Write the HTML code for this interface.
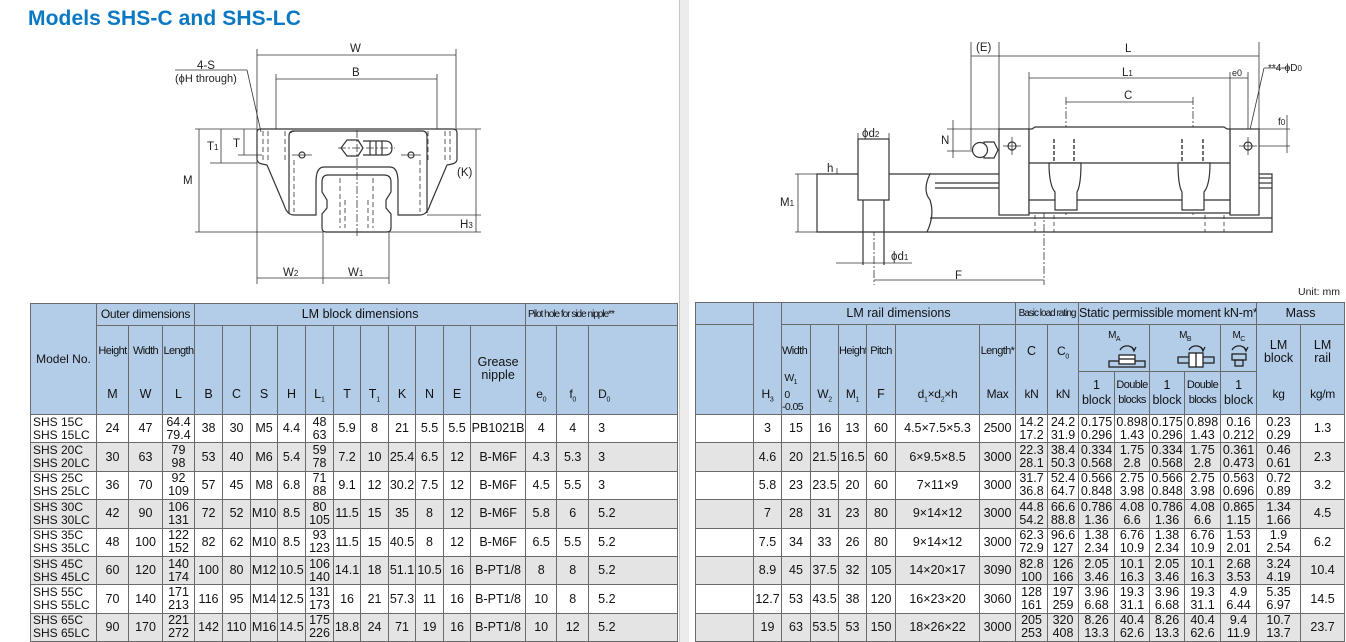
<!DOCTYPE html>
<html><head><meta charset="utf-8">
<style>
html,body{margin:0;padding:0;background:#fff;}
body{width:1346px;height:642px;position:relative;overflow:hidden;font-family:"Liberation Sans",Arial,sans-serif;color:#111;}
.title{position:absolute;left:28px;top:7px;font-size:21px;font-weight:bold;color:#0a78c2;letter-spacing:0.1px;}
table.t{position:absolute;border-collapse:collapse;table-layout:fixed;font-size:12.5px;}
table.t td{border:1px solid #6a6a6a;text-align:center;padding:0;white-space:nowrap;overflow:hidden;line-height:13px;vertical-align:middle;}
table.t tr.h td{background:#b3cde9;}
table.t tr.g td{background:#e4e4e4;}
table.t tr.w td{background:#fff;}
td .rel{position:relative;width:100%;}
td .rel span{position:absolute;left:0;right:0;text-align:center;}
.c{font-size:11px;letter-spacing:-0.6px;}
.n{font-size:12px;letter-spacing:-0.3px;}
.m{text-align:left !important;padding-left:2px !important;font-size:12px;}
.d0{text-align:left !important;padding-left:9px !important;}
svg text{font-family:"Liberation Sans",Arial,sans-serif;}
</style></head><body>
<div class="title">Models SHS-C and SHS-LC</div>

<div style="position:absolute;left:679px;top:0;width:1px;height:642px;background:#c8c8c8"></div>
<div style="position:absolute;left:680px;top:0;width:9px;height:642px;background:#ececec"></div>

<svg style="position:absolute;left:0;top:0" width="1346" height="300" viewBox="0 0 1346 300">
<g stroke="#333" stroke-width="0.8" fill="none">
 <line x1="257" y1="49" x2="257" y2="284"/><line x1="456" y1="49" x2="456" y2="129"/>
 <line x1="257" y1="55" x2="456" y2="55"/>
 <line x1="276" y1="74" x2="276" y2="129"/><line x1="437" y1="74" x2="437" y2="129"/>
 <line x1="276" y1="79" x2="437" y2="79"/>
 <line x1="175" y1="70" x2="247" y2="70"/><line x1="247" y1="70" x2="261" y2="132"/>
 <line x1="195" y1="129" x2="257" y2="129"/><line x1="456" y1="129" x2="481" y2="129"/>
 <line x1="195" y1="232" x2="323" y2="232"/><line x1="389" y1="232" x2="481" y2="232"/>
 <line x1="199" y1="129" x2="199" y2="232"/>
 <line x1="210" y1="163" x2="257" y2="163"/><line x1="221" y1="129" x2="221" y2="163"/>
 <line x1="238" y1="155" x2="262" y2="155"/><line x1="244" y1="129" x2="244" y2="155"/>
 <line x1="427" y1="215" x2="481" y2="215"/><line x1="476" y1="129" x2="476" y2="232"/>
 <line x1="323" y1="232" x2="323" y2="284"/><line x1="389" y1="232" x2="389" y2="284"/>
 <line x1="257" y1="278" x2="389" y2="278"/>
 <g stroke-width="1.2">
 <path d="M260,129 L453,129 Q457,129 457,133 L457,159 Q457,163 452,164 L447,165 L430,205 Q427,215 420,215 L398,215 L398,182 Q398,167 390,167 L324,167 Q316,167 316,182 L316,215 L294,215 Q287,215 284,205 L267,165 L262,164 Q257,163 257,159 L257,133 Q257,129 260,129 Z"/>
 <path d="M291,133 Q291,131 294,131 L422,131 Q427,131 427,136 L427,213"/>
 <path d="M289,213 L289,136 Q289,131 294,131"/>
 <path d="M328,175 L384,175 Q391,175 391,182 L391,192 L386,200 L386,208 L391,214 L391,228 Q391,232 387,232 L326,232 Q322,232 322,228 L322,214 L327,208 L327,200 L322,192 L322,182 Q322,175 328,175 Z"/>
 <path d="M341,148 L347,140 L358,140 L363,148 L358,156 L347,156 Z" fill="#fff"/>
 <path d="M363,141 L385,141 Q392,141 392,148 Q392,155 385,155 L363,155" fill="#fff"/>
 <line x1="370" y1="141" x2="370" y2="155"/><line x1="376" y1="141" x2="376" y2="155"/><line x1="382" y1="141" x2="382" y2="155"/>
 <circle cx="302" cy="155" r="3"/><circle cx="411" cy="155" r="3"/>
 </g>
 <g stroke-dasharray="5,3">
 <line x1="263" y1="131" x2="263" y2="162"/><line x1="268" y1="131" x2="268" y2="162"/><line x1="285" y1="131" x2="285" y2="162"/>
 <line x1="445" y1="131" x2="445" y2="162"/><line x1="450" y1="131" x2="450" y2="162"/><line x1="428" y1="131" x2="428" y2="162"/>
 <line x1="294" y1="160" x2="294" y2="212"/><line x1="420" y1="160" x2="420" y2="212"/>
 <line x1="340" y1="178" x2="340" y2="228"/><line x1="373" y1="178" x2="373" y2="228"/>
 <line x1="345" y1="200" x2="345" y2="228"/><line x1="368" y1="200" x2="368" y2="228"/>
 <line x1="357" y1="130" x2="357" y2="236" stroke-dasharray="8,2,2,2"/>
 <line x1="292" y1="155" x2="312" y2="155" stroke-dasharray="none"/><line x1="401" y1="155" x2="421" y2="155" stroke-dasharray="none"/>
 <line x1="338" y1="148" x2="395" y2="148" stroke-dasharray="8,2,2,2"/>
 </g>

 <line x1="971" y1="42" x2="971" y2="150"/><line x1="999" y1="42" x2="999" y2="129"/>
 <line x1="1259" y1="42" x2="1259" y2="129"/>
 <line x1="971" y1="56" x2="1259" y2="56"/>
 <line x1="1029" y1="72" x2="1029" y2="129"/><line x1="1230" y1="72" x2="1230" y2="129"/><line x1="1248" y1="72" x2="1248" y2="150"/>
 <line x1="1029" y1="78" x2="1248" y2="78"/>
 <line x1="1066" y1="97" x2="1066" y2="215" stroke-dasharray="8,2,2,2"/><line x1="1193" y1="97" x2="1193" y2="215" stroke-dasharray="8,2,2,2"/>
 <line x1="1066" y1="102" x2="1193" y2="102"/>
 <line x1="1247" y1="143" x2="1264" y2="68"/><line x1="1264" y1="68" x2="1290" y2="68"/>
 <line x1="1259" y1="129" x2="1290" y2="129"/><line x1="1250" y1="146" x2="1290" y2="146"/><line x1="1287" y1="115" x2="1287" y2="153"/>
 <line x1="947" y1="129" x2="999" y2="129"/><line x1="947" y1="151" x2="975" y2="151"/><line x1="953" y1="120" x2="953" y2="158"/>
 <line x1="795" y1="174" x2="817" y2="174"/><line x1="795" y1="232" x2="817" y2="232"/>
 <line x1="798" y1="174" x2="798" y2="232"/>
 <line x1="836" y1="200" x2="858" y2="200"/><line x1="837" y1="168" x2="837" y2="200"/>
 <line x1="858" y1="139" x2="858" y2="133"/><line x1="889" y1="139" x2="889" y2="133"/><line x1="858" y1="139" x2="889" y2="139"/>
 <line x1="836" y1="263" x2="912" y2="263"/>
 <line x1="874" y1="200" x2="874" y2="285" stroke-dasharray="8,2,2,2"/><line x1="1044" y1="210" x2="1044" y2="285" stroke-dasharray="8,2,2,2"/>
 <line x1="874" y1="280" x2="1044" y2="280"/>
 <g stroke-width="1.2">
 <path d="M817,174 L930,174 Q922,190 930,200 Q935,215 927,232 L817,232 Z" fill="#fff"/>
 <path d="M930,174 L1272,174 L1272,232 L927,232"/>
 <line x1="1259" y1="178" x2="1272" y2="178"/><line x1="1259" y1="183" x2="1272" y2="183"/><line x1="1259" y1="188" x2="1272" y2="188"/>
 <line x1="935" y1="183" x2="999" y2="183"/><line x1="935" y1="188" x2="999" y2="188"/>
 <line x1="930" y1="218" x2="1272" y2="218"/>
 <rect x="858" y="139" width="31" height="61" fill="#fff"/>
 <line x1="863" y1="200" x2="863" y2="265"/><line x1="884" y1="200" x2="884" y2="265"/>
 <rect x="999" y="129" width="30" height="86" fill="#fff"/>
 <rect x="1230" y="129" width="29" height="86" fill="#fff"/>
 <path d="M1029,129 L1032,129 L1035,127 L1224,127 L1227,129 L1230,129 L1230,213 L1029,213 Z" fill="#fff"/>
 <line x1="1029" y1="163" x2="1230" y2="163"/>
 <line x1="1029" y1="200" x2="1230" y2="200"/>
 <path d="M1049,163 L1081,163 Q1081,185 1077,192 L1077,210 L1055,210 L1055,192 Q1049,185 1049,163" fill="#fff"/>
 <path d="M1178,163 L1210,163 Q1210,185 1204,192 L1204,210 L1182,210 L1182,192 Q1178,185 1178,163" fill="#fff"/>
 <path d="M984,142 L994,142 L998,150 L994,158 L984,158 Z" fill="#fff"/>
 <circle cx="980" cy="150" r="7.5" fill="#fff"/>
 <circle cx="1012" cy="146" r="4"/><circle cx="1248" cy="146" r="4"/>
 </g>
 <line x1="1003" y1="146" x2="1021" y2="146"/><line x1="1012" y1="137" x2="1012" y2="155"/>
 <line x1="1239" y1="146" x2="1257" y2="146"/><line x1="1248" y1="137" x2="1248" y2="155"/>
 <g stroke-dasharray="4,2" stroke-width="1.4">
 <line x1="1054" y1="139" x2="1054" y2="162"/><line x1="1074" y1="139" x2="1074" y2="162"/>
 <line x1="1182" y1="139" x2="1182" y2="162"/><line x1="1203" y1="139" x2="1203" y2="162"/>
 </g>
 <g stroke-dasharray="4,3">
 <line x1="1035" y1="215" x2="1035" y2="232"/><line x1="1054" y1="215" x2="1054" y2="232"/>
 <line x1="1205" y1="215" x2="1205" y2="232"/><line x1="1224" y1="215" x2="1224" y2="232"/>
 </g>
</g>
<g font-size="11.5" fill="#222">
 <text x="350" y="52">W</text><text x="352" y="76">B</text>
 <text x="197" y="69">4-S</text><text x="175" y="82" font-size="11">(ϕH through)</text>
 <text x="207" y="150">T<tspan font-size="8">1</tspan></text><text x="233" y="147">T</text>
 <text x="183" y="184">M</text><text x="457" y="176">(K)</text>
 <text x="460" y="228">H<tspan font-size="8">3</tspan></text>
 <text x="283" y="276">W<tspan font-size="8">2</tspan></text><text x="348" y="276">W<tspan font-size="8">1</tspan></text>
 <text x="976" y="51">(E)</text><text x="1125" y="52">L</text>
 <text x="1122" y="76">L<tspan font-size="8">1</tspan></text><text x="1124" y="99">C</text>
 <text x="1232" y="76" font-size="9">e0</text><text x="1268" y="71" font-size="10">**4-ϕD<tspan font-size="8">0</tspan></text>
 <text x="1278" y="125" font-size="10">f<tspan font-size="8">0</tspan></text>
 <text x="941" y="144">N</text><text x="827" y="172">h</text><text x="780" y="206">M<tspan font-size="8">1</tspan></text>
 <text x="862" y="137">ϕd<tspan font-size="8">2</tspan></text><text x="891" y="260">ϕd<tspan font-size="8">1</tspan></text>
 <text x="955" y="279">F</text>
 <text x="1298" y="295" font-size="10.5">Unit: mm</text>
</g>
</svg>

<table class="t" style="left:30px;top:303px;width:647px">
<colgroup><col style="width:66px"><col style="width:32px"><col style="width:34px"><col style="width:32px"><col style="width:28px"><col style="width:28px"><col style="width:27px"><col style="width:28px"><col style="width:28px"><col style="width:27px"><col style="width:28px"><col style="width:27px"><col style="width:28px"><col style="width:27px"><col style="width:55px"><col style="width:31px"><col style="width:32px"><col style="width:89px"></colgroup>
<tr class="h" style="height:22px"><td rowspan="2" style="font-size:12px">Model No.</td><td colspan="3" style="font-size:12px;letter-spacing:-0.3px">Outer dimensions</td><td colspan="11">LM block dimensions</td><td colspan="3" style="text-align:left;font-size:10px;letter-spacing:-1px">&nbsp;Pilot hole for side nipple**</td></tr>
<tr class="h" style="height:89px">
<td><div class="rel" style="height:88px"><span class="c" style="top:19px">Height</span><span style="top:62px">M</span></div></td>
<td><div class="rel" style="height:88px"><span class="c" style="top:19px">Width</span><span style="top:62px">W</span></div></td>
<td><div class="rel" style="height:88px"><span class="c" style="top:19px">Length</span><span style="top:62px">L</span></div></td>
<td><div class="rel" style="height:88px"><span style="top:62px">B</span></div></td>
<td><div class="rel" style="height:88px"><span style="top:62px">C</span></div></td>
<td><div class="rel" style="height:88px"><span style="top:62px">S</span></div></td>
<td><div class="rel" style="height:88px"><span style="top:62px">H</span></div></td>
<td><div class="rel" style="height:88px"><span style="top:62px">L<sub style="font-size:7px">1</sub></span></div></td>
<td><div class="rel" style="height:88px"><span style="top:62px">T</span></div></td>
<td><div class="rel" style="height:88px"><span style="top:62px">T<sub style="font-size:7px">1</sub></span></div></td>
<td><div class="rel" style="height:88px"><span style="top:62px">K</span></div></td>
<td><div class="rel" style="height:88px"><span style="top:62px">N</span></div></td>
<td><div class="rel" style="height:88px"><span style="top:62px">E</span></div></td>
<td><div class="rel" style="height:88px"><span style="top:30px">Grease<br>nipple</span></div></td>
<td><div class="rel" style="height:88px"><span class="n" style="top:62px">e<sub style="font-size:7px">0</sub></span></div></td>
<td><div class="rel" style="height:88px"><span class="n" style="top:62px">f<sub style="font-size:7px">0</sub></span></div></td>
<td><div class="rel" style="height:88px"><span class="n" style="top:62px;text-align:left;left:9px">D<sub style="font-size:7px">0</sub></span></div></td>
</tr>
<tr class="w" style="height:28.4px"><td class="m">SHS 15C<br>SHS 15LC</td><td>24</td><td>47</td><td>64.4<br>79.4</td><td>38</td><td>30</td><td>M5</td><td>4.4</td><td>48<br>63</td><td>5.9</td><td>8</td><td>21</td><td>5.5</td><td>5.5</td><td>PB1021B</td><td>4</td><td>4</td><td class="d0">3</td></tr>
<tr class="g" style="height:28.4px"><td class="m">SHS 20C<br>SHS 20LC</td><td>30</td><td>63</td><td>79<br>98</td><td>53</td><td>40</td><td>M6</td><td>5.4</td><td>59<br>78</td><td>7.2</td><td>10</td><td>25.4</td><td>6.5</td><td>12</td><td>B-M6F</td><td>4.3</td><td>5.3</td><td class="d0">3</td></tr>
<tr class="w" style="height:28.4px"><td class="m">SHS 25C<br>SHS 25LC</td><td>36</td><td>70</td><td>92<br>109</td><td>57</td><td>45</td><td>M8</td><td>6.8</td><td>71<br>88</td><td>9.1</td><td>12</td><td>30.2</td><td>7.5</td><td>12</td><td>B-M6F</td><td>4.5</td><td>5.5</td><td class="d0">3</td></tr>
<tr class="g" style="height:28.4px"><td class="m">SHS 30C<br>SHS 30LC</td><td>42</td><td>90</td><td>106<br>131</td><td>72</td><td>52</td><td>M10</td><td>8.5</td><td>80<br>105</td><td>11.5</td><td>15</td><td>35</td><td>8</td><td>12</td><td>B-M6F</td><td>5.8</td><td>6</td><td class="d0">5.2</td></tr>
<tr class="w" style="height:28.4px"><td class="m">SHS 35C<br>SHS 35LC</td><td>48</td><td>100</td><td>122<br>152</td><td>82</td><td>62</td><td>M10</td><td>8.5</td><td>93<br>123</td><td>11.5</td><td>15</td><td>40.5</td><td>8</td><td>12</td><td>B-M6F</td><td>6.5</td><td>5.5</td><td class="d0">5.2</td></tr>
<tr class="g" style="height:28.4px"><td class="m">SHS 45C<br>SHS 45LC</td><td>60</td><td>120</td><td>140<br>174</td><td>100</td><td>80</td><td>M12</td><td>10.5</td><td>106<br>140</td><td>14.1</td><td>18</td><td>51.1</td><td>10.5</td><td>16</td><td>B-PT1/8</td><td>8</td><td>8</td><td class="d0">5.2</td></tr>
<tr class="w" style="height:28.4px"><td class="m">SHS 55C<br>SHS 55LC</td><td>70</td><td>140</td><td>171<br>213</td><td>116</td><td>95</td><td>M14</td><td>12.5</td><td>131<br>173</td><td>16</td><td>21</td><td>57.3</td><td>11</td><td>16</td><td>B-PT1/8</td><td>10</td><td>8</td><td class="d0">5.2</td></tr>
<tr class="g" style="height:28.4px"><td class="m">SHS 65C<br>SHS 65LC</td><td>90</td><td>170</td><td>221<br>272</td><td>142</td><td>110</td><td>M16</td><td>14.5</td><td>175<br>226</td><td>18.8</td><td>24</td><td>71</td><td>19</td><td>16</td><td>B-PT1/8</td><td>10</td><td>12</td><td class="d0">5.2</td></tr>
</table>

<table class="t" style="left:695px;top:302px;width:649px">
<colgroup><col style="width:58px"><col style="width:28px"><col style="width:29px"><col style="width:28px"><col style="width:28px"><col style="width:29px"><col style="width:84px"><col style="width:36px"><col style="width:32px"><col style="width:31px"><col style="width:36px"><col style="width:35px"><col style="width:35px"><col style="width:36px"><col style="width:36px"><col style="width:44px"><col style="width:44px"></colgroup>
<tr class="h" style="height:22px"><td></td><td rowspan="3"><div class="rel" style="height:110px"><span class="n" style="top:84px">H<sub style="font-size:7px">3</sub></span></div></td><td colspan="6">LM rail dimensions</td><td colspan="2" style="font-size:10px;letter-spacing:-1px">Basic load rating</td><td colspan="5" style="letter-spacing:-0.2px">Static permissible moment kN-m*</td><td colspan="2">Mass</td></tr>
<tr class="h" style="height:47px">
<td rowspan="2"></td>
<td rowspan="2" style="text-align:left"><div class="rel" style="height:89px"><span class="c" style="top:20px;text-align:left">Width</span><span class="c" style="top:47px;text-align:left;font-size:10.5px;line-height:12px">&nbsp;W<sub style="font-size:7px">1</sub><br>&nbsp;0<br>-0.05</span></div></td>
<td rowspan="2"><div class="rel" style="height:89px"><span class="n" style="top:63px">W<sub style="font-size:7px">2</sub></span></div></td>
<td rowspan="2"><div class="rel" style="height:89px"><span class="c" style="top:20px">Height</span><span class="n" style="top:63px">M<sub style="font-size:7px">1</sub></span></div></td>
<td rowspan="2"><div class="rel" style="height:89px"><span class="c" style="top:20px">Pitch</span><span style="top:63px">F</span></div></td>
<td rowspan="2"><div class="rel" style="height:89px"><span class="n" style="top:63px">d<sub style="font-size:7px">1</sub>×d<sub style="font-size:7px">2</sub>×h</span></div></td>
<td rowspan="2"><div class="rel" style="height:89px"><span class="c" style="top:20px">Length*</span><span class="n" style="top:63px">Max</span></div></td>
<td rowspan="2"><div class="rel" style="height:89px"><span style="top:20px">C</span><span class="n" style="top:63px">kN</span></div></td>
<td rowspan="2"><div class="rel" style="height:89px"><span class="n" style="top:20px">C<sub style="font-size:7px">0</sub></span><span class="n" style="top:63px">kN</span></div></td>
<td colspan="2"><div class="rel" style="height:46px"><span class="c" style="top:4px;font-size:10px">M<sub style="font-size:7px">A</sub></span>
<svg style="position:absolute;left:28px;top:15px" width="40" height="28" viewBox="0 0 40 28" fill="none" stroke="#222" stroke-width="1.3"><path d="M13,10 A8,8 0 0 1 27,10"/><path d="M25,7 L27,11 L29,7"/><rect x="2" y="21" width="36" height="6"/><rect x="12" y="15" width="16" height="9" fill="#fff"/><line x1="12" y1="19" x2="28" y2="19"/></svg></div></td>
<td colspan="2"><div class="rel" style="height:46px"><span class="c" style="top:4px;font-size:10px">M<sub style="font-size:7px">B</sub></span>
<svg style="position:absolute;left:26px;top:15px" width="40" height="28" viewBox="0 0 40 28" fill="none" stroke="#222" stroke-width="1.3"><path d="M13,10 A8,8 0 0 1 27,10"/><path d="M25,7 L27,11 L29,7"/><rect x="2" y="17" width="36" height="6"/><rect x="13" y="13" width="14" height="14" fill="#fff"/><line x1="20" y1="13" x2="20" y2="27"/></svg></div></td>
<td><div class="rel" style="height:46px"><span class="c" style="top:4px;font-size:10px">M<sub style="font-size:7px">C</sub></span>
<svg style="position:absolute;left:8px;top:15px" width="20" height="28" viewBox="0 0 20 28" fill="none" stroke="#222" stroke-width="1.3"><path d="M3,10 A8,8 0 0 1 17,10"/><path d="M15,7 L17,11 L19,7"/><rect x="3" y="14" width="14" height="6"/><rect x="6" y="20" width="8" height="6"/></svg></div></td>
<td rowspan="2"><div class="rel" style="height:89px"><span style="top:14px">LM<br>block</span><span class="n" style="top:63px">kg</span></div></td>
<td rowspan="2"><div class="rel" style="height:89px"><span style="top:14px">LM<br>rail</span><span class="n" style="top:63px">kg/m</span></div></td>
</tr>
<tr class="h" style="height:43px"><td style="line-height:15px">1<br>block</td><td class="c" style="line-height:15px">Double<br>blocks</td><td style="line-height:15px">1<br>block</td><td class="c" style="line-height:15px">Double<br>blocks</td><td style="line-height:15px">1<br>block</td></tr>
<tr class="w" style="height:28.4px"><td></td><td>3</td><td>15</td><td>16</td><td>13</td><td>60</td><td>4.5×7.5×5.3</td><td>2500</td><td>14.2<br>17.2</td><td>24.2<br>31.9</td><td>0.175<br>0.296</td><td>0.898<br>1.43</td><td>0.175<br>0.296</td><td>0.898<br>1.43</td><td>0.16<br>0.212</td><td>0.23<br>0.29</td><td>1.3</td></tr>
<tr class="g" style="height:28.4px"><td></td><td>4.6</td><td>20</td><td>21.5</td><td>16.5</td><td>60</td><td>6×9.5×8.5</td><td>3000</td><td>22.3<br>28.1</td><td>38.4<br>50.3</td><td>0.334<br>0.568</td><td>1.75<br>2.8</td><td>0.334<br>0.568</td><td>1.75<br>2.8</td><td>0.361<br>0.473</td><td>0.46<br>0.61</td><td>2.3</td></tr>
<tr class="w" style="height:28.4px"><td></td><td>5.8</td><td>23</td><td>23.5</td><td>20</td><td>60</td><td>7×11×9</td><td>3000</td><td>31.7<br>36.8</td><td>52.4<br>64.7</td><td>0.566<br>0.848</td><td>2.75<br>3.98</td><td>0.566<br>0.848</td><td>2.75<br>3.98</td><td>0.563<br>0.696</td><td>0.72<br>0.89</td><td>3.2</td></tr>
<tr class="g" style="height:28.4px"><td></td><td>7</td><td>28</td><td>31</td><td>23</td><td>80</td><td>9×14×12</td><td>3000</td><td>44.8<br>54.2</td><td>66.6<br>88.8</td><td>0.786<br>1.36</td><td>4.08<br>6.6</td><td>0.786<br>1.36</td><td>4.08<br>6.6</td><td>0.865<br>1.15</td><td>1.34<br>1.66</td><td>4.5</td></tr>
<tr class="w" style="height:28.4px"><td></td><td>7.5</td><td>34</td><td>33</td><td>26</td><td>80</td><td>9×14×12</td><td>3000</td><td>62.3<br>72.9</td><td>96.6<br>127</td><td>1.38<br>2.34</td><td>6.76<br>10.9</td><td>1.38<br>2.34</td><td>6.76<br>10.9</td><td>1.53<br>2.01</td><td>1.9<br>2.54</td><td>6.2</td></tr>
<tr class="g" style="height:28.4px"><td></td><td>8.9</td><td>45</td><td>37.5</td><td>32</td><td>105</td><td>14×20×17</td><td>3090</td><td>82.8<br>100</td><td>126<br>166</td><td>2.05<br>3.46</td><td>10.1<br>16.3</td><td>2.05<br>3.46</td><td>10.1<br>16.3</td><td>2.68<br>3.53</td><td>3.24<br>4.19</td><td>10.4</td></tr>
<tr class="w" style="height:28.4px"><td></td><td>12.7</td><td>53</td><td>43.5</td><td>38</td><td>120</td><td>16×23×20</td><td>3060</td><td>128<br>161</td><td>197<br>259</td><td>3.96<br>6.68</td><td>19.3<br>31.1</td><td>3.96<br>6.68</td><td>19.3<br>31.1</td><td>4.9<br>6.44</td><td>5.35<br>6.97</td><td>14.5</td></tr>
<tr class="g" style="height:28.4px"><td></td><td>19</td><td>63</td><td>53.5</td><td>53</td><td>150</td><td>18×26×22</td><td>3000</td><td>205<br>253</td><td>320<br>408</td><td>8.26<br>13.3</td><td>40.4<br>62.6</td><td>8.26<br>13.3</td><td>40.4<br>62.6</td><td>9.4<br>11.9</td><td>10.7<br>13.7</td><td>23.7</td></tr>
</table>
</body></html>
